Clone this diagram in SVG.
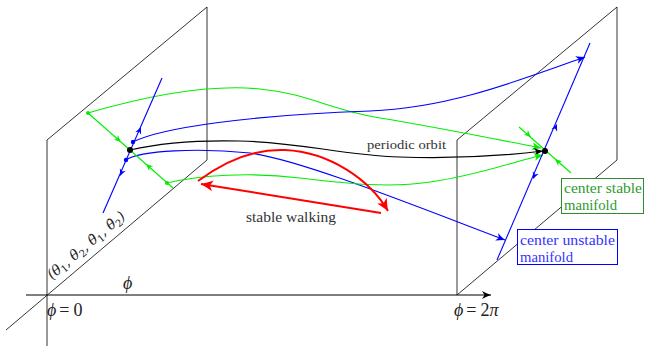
<svg xmlns="http://www.w3.org/2000/svg" xmlns:xlink="http://www.w3.org/1999/xlink" width="645" height="346" viewBox="0 0 645 346">
<style>
.pl{fill:none;stroke:#000;stroke-width:0.8}
.ax{fill:none;stroke:#000;stroke-width:1}
.b{fill:none;stroke:#0000ff;stroke-width:1.1}
.g{fill:none;stroke:#00ee00;stroke-width:1.1}
.k{fill:none;stroke:#000;stroke-width:1.2}
.r{fill:none;stroke:#ff0000;stroke-width:2}
.t{font-family:"Liberation Serif","DejaVu Serif",serif;fill:#333}
.m{font-family:"Liberation Serif","DejaVu Serif",serif;font-style:italic;fill:#222}
.d{font-family:"DejaVu Serif",serif;font-style:italic;fill:#222}
.s{font-style:normal}
</style>
<defs>
<path id="st" d="M0,0 C-3,-1 -6,-2.5 -9,-4 L-6.5,0 L-9,4 C-6,2.5 -3,1 0,0 Z"/>
<path id="sm" d="M0,0 C-2.5,-1 -5,-2.2 -7,-3.2 L-5,0 L-7,3.2 C-5,2.2 -2.5,1 0,0 Z"/>
<marker id="mb" viewBox="-10 -5 11 10" markerWidth="11" markerHeight="10" refX="0" refY="0" orient="auto" markerUnits="userSpaceOnUse"><use href="#st" fill="#0000ff"/></marker>
<marker id="mg" viewBox="-10 -5 11 10" markerWidth="11" markerHeight="10" refX="0" refY="0" orient="auto" markerUnits="userSpaceOnUse"><use href="#st" fill="#00ee00"/></marker>
<marker id="mk" viewBox="-10 -5 11 10" markerWidth="11" markerHeight="10" refX="0" refY="0" orient="auto" markerUnits="userSpaceOnUse"><use href="#st" fill="#000"/></marker>
<marker id="mr" viewBox="-13 -6 14 12" markerWidth="14" markerHeight="12" refX="0" refY="0" orient="auto" markerUnits="userSpaceOnUse"><path d="M0,0 C-4,-1.5 -8,-3.5 -12,-5.5 L-9,0 L-12,5.5 C-8,3.5 -4,1.5 0,0 Z" fill="#ff0000"/></marker>
</defs>

<g id="planes">
<path class="pl" d="M47,346 L47,140 L207,7 L207,160 L6,330"/>
<path class="pl" d="M457,295 L457,140 L617,7 L617,160 L457,295"/>
</g>

<g id="axis">
<path class="ax" d="M26,295 L491,295" marker-end="url(#mk)"/>
</g>

<g id="connectors">
<path class="g" d="M88,113 C150,95 210,84 260,89 C310,94 330,110 380,118 C430,126 480,136 541,148" marker-end="url(#mg)"/>
<path class="b" d="M133,142 C160,128 250,115 370,111 C450,108 520,80 585,57" marker-end="url(#mb)"/>
<path class="k" d="M130,150 C160,143 200,140 240,141 C300,142 340,155 400,157 C460,159 510,155 543,151" marker-end="url(#mk)"/>
<path class="b" d="M126,160 C140,150 200,148 250,153 C300,160 400,200 505,240" marker-end="url(#mb)"/>
<path class="g" d="M167,183 C200,175 250,172 300,178 C350,184 390,188 430,182 C480,175 515,161 543,155" marker-end="url(#mg)"/>
<path class="r" d="M198,181 C230,157 260,149 285,150 C330,152 370,180 388,211" marker-end="url(#mr)"/>
<path class="r" d="M381,213 L201,184" marker-end="url(#mr)"/>
</g>

<g id="left-section">
<path class="b" d="M162,78 L103,213"/>
<path class="g" d="M88,113 L173,188"/>
<use href="#sm" fill="#0000ff" transform="translate(141,127) rotate(-66.4)"/>
<use href="#sm" fill="#0000ff" transform="translate(120,176) rotate(113.6)"/>
<use href="#sm" fill="#00ee00" transform="translate(121,142) rotate(41.4)"/>
<use href="#sm" fill="#00ee00" transform="translate(146,164) rotate(221.4)"/>
<circle cx="88" cy="113" r="2" fill="#00ee00"/>
<circle cx="167" cy="183" r="2" fill="#00ee00"/>
<circle cx="133" cy="142" r="2.2" fill="#0000ff"/>
<circle cx="126" cy="160" r="2.2" fill="#0000ff"/>
<circle cx="130" cy="150" r="3" fill="#000"/>
</g>

<g id="right-section">
<path class="b" d="M590,43 L497,260"/>
<path class="g" d="M519,127 L571,173"/>
<use href="#sm" fill="#0000ff" transform="translate(557,124) rotate(-66.8)"/>
<use href="#sm" fill="#0000ff" transform="translate(533,179) rotate(113.2)"/>
<use href="#sm" fill="#00ee00" transform="translate(531,137) rotate(41.5)"/>
<use href="#sm" fill="#00ee00" transform="translate(555,159) rotate(221.5)"/>
<circle cx="545" cy="151" r="3" fill="#000"/>
</g>

<g id="label-periodic"><text class="t" x="367" y="149" font-size="13" textLength="79" lengthAdjust="spacingAndGlyphs">periodic orbit</text></g>
<g id="label-walking"><text class="t" x="246" y="222" font-size="14.5" textLength="90" lengthAdjust="spacingAndGlyphs">stable walking</text></g>

<g id="box-stable">
<rect x="561.5" y="178.5" width="82" height="35" fill="#fff" stroke="#2e8b2e" stroke-width="1"/>
<text class="t" x="564" y="193" font-size="14.5" textLength="78" lengthAdjust="spacingAndGlyphs" style="fill:#2e9a2e">center stable</text>
<text class="t" x="564" y="210" font-size="14.5" textLength="53" lengthAdjust="spacingAndGlyphs" style="fill:#2e9a2e">manifold</text>
</g>

<g id="box-unstable">
<rect x="517.5" y="229.5" width="100" height="35" fill="#fff" stroke="#0000ff" stroke-width="1"/>
<text class="t" x="520" y="245" font-size="14.5" textLength="95" lengthAdjust="spacingAndGlyphs" style="fill:#3333ff">center unstable</text>
<text class="t" x="520" y="262" font-size="14.5" textLength="53" lengthAdjust="spacingAndGlyphs" style="fill:#3333ff">manifold</text>
</g>

<g id="axis-labels">
<text class="m" x="123" y="289" font-size="18">ϕ</text>
<text class="m" x="47" y="316" font-size="18">ϕ<tspan class="s" dx="3">=</tspan><tspan class="s" dx="4">0</tspan></text>
<text class="m" x="454" y="316" font-size="18">ϕ<tspan class="s" dx="3">=</tspan><tspan class="s" dx="4">2</tspan>π</text>
<text class="d" font-size="14" transform="translate(52,280) rotate(-40)">(θ<tspan class="s" font-size="10" dy="3">1</tspan><tspan dy="-3">, θ</tspan><tspan class="s" font-size="10" dy="3">2</tspan><tspan dy="-3">, θ̇</tspan><tspan class="s" font-size="10" dy="3">1</tspan><tspan dy="-3">, θ̇</tspan><tspan class="s" font-size="10" dy="3">2</tspan><tspan dy="-3">)</tspan></text>
</g>
</svg>
